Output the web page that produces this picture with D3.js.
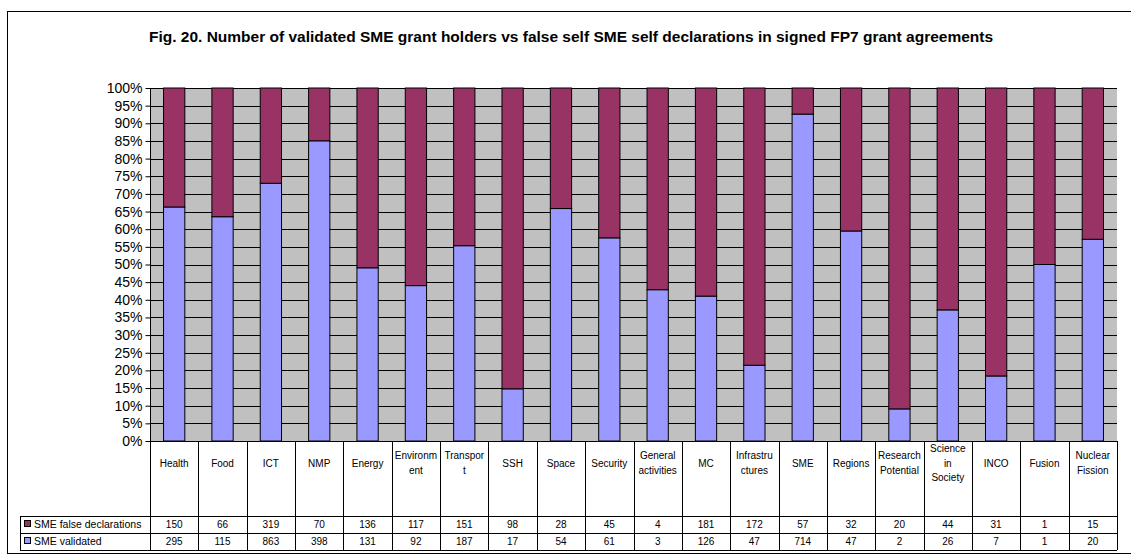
<!DOCTYPE html>
<html><head><meta charset="utf-8">
<script src="https://cdn.jsdelivr.net/npm/d3@7"></script>
<style>body{margin:0;background:#fff}svg{display:block}text{font-family:"Liberation Sans",Arial,sans-serif}</style>
</head><body><svg id="c" width="1131" height="556"></svg>
<script>
const categories = ["Health","Food","ICT","NMP","Energy","Environment","Transport","SSH","Space","Security","General activities","MC","Infrastructures","SME","Regions","Research Potential","Science in Society","INCO","Fusion","Nuclear Fission"];
const headerLines = [["Health"],["Food"],["ICT"],["NMP"],["Energy"],["Environm","ent"],["Transpor","t"],["SSH"],["Space"],["Security"],["General","activities"],["MC"],["Infrastru","ctures"],["SME"],["Regions"],["Research","Potential"],["Science","in","Society"],["INCO"],["Fusion"],["Nuclear","Fission"]];
const falseDecl = [150,66,319,70,136,117,151,98,28,45,4,181,172,57,32,20,44,31,1,15];
const validated = [295,115,863,398,131,92,187,17,54,61,3,126,47,714,47,2,26,7,1,20];
const seriesNames = ["SME false declarations","SME validated"];
const yTicks = d3.range(0,101,5);
const title = "Fig. 20. Number of validated SME grant holders vs false self SME self declarations in signed FP7 grant agreements";

const svg = d3.select("#c");
const colors = {f:"#993366", v:"#9999FF"};
const L=150, R=1117, T=88, B=441;
const rowH = [516,533,550];
svg.append("rect").attr("x",7.5).attr("y",11.5).attr("width",1130).attr("height",542).attr("fill","none").attr("stroke","#000");
svg.append("text").attr("x",571).attr("y",42).attr("text-anchor","middle").attr("font-weight","bold").attr("font-size",15.5).text(title);

const x = d3.scaleBand().domain(categories).range([L,R]).paddingInner(0).paddingOuter(0);
const y = d3.scaleLinear().domain([0,100]).range([B,T]);
const g = svg.append("g");
g.append("rect").attr("x",L).attr("y",T).attr("width",R-L).attr("height",B-T).attr("fill","#C0C0C0");
g.selectAll("line.grid").data(yTicks.filter(d=>d>0)).join("line").attr("class","grid")
 .attr("x1",L).attr("x2",R).attr("y1",d=>Math.round(y(d))+0.5).attr("y2",d=>Math.round(y(d))+0.5).attr("stroke","#000").attr("stroke-width",1);

const bw = x.bandwidth()*0.44;
const data = categories.map((c,i)=>{const t=falseDecl[i]+validated[i];return {c, v:validated[i]/t*100};});
g.selectAll("rect.v").data(data).join("rect").attr("x",d=>x(d.c)+(x.bandwidth()-bw)/2).attr("width",bw)
 .attr("y",d=>y(d.v)).attr("height",d=>B-y(d.v)).attr("fill",colors.v).attr("stroke","#000").attr("stroke-width",1);
g.selectAll("rect.f").data(data).join("rect").attr("x",d=>x(d.c)+(x.bandwidth()-bw)/2).attr("width",bw)
 .attr("y",y(100)).attr("height",d=>y(d.v)-y(100)).attr("fill",colors.f).attr("stroke","#000").attr("stroke-width",1);

const yAxis = d3.axisLeft(y).tickValues(yTicks).tickFormat(d=>d+"%").tickSize(5).tickPadding(3);
const ya = svg.append("g").attr("transform",`translate(${L+0.5},0)`).call(yAxis);
ya.select(".domain").remove();
ya.selectAll("text").attr("font-size",14).attr("fill","#000").attr("font-family","Liberation Sans, Arial");
ya.selectAll("line").attr("stroke","#000");
svg.append("line").attr("x1",L+0.5).attr("x2",L+0.5).attr("y1",T).attr("y2",rowH[2]).attr("stroke","#000");

// data table
const tb = svg.append("g");
categories.forEach((c,i)=>{
  const xr = x(c)+x.bandwidth();
  tb.append("line").attr("x1",Math.round(xr)+0.5).attr("x2",Math.round(xr)+0.5).attr("y1",B).attr("y2",rowH[2]).attr("stroke","#000");
});
[B,...rowH].forEach((yy,k)=>{
  tb.append("line").attr("x1",k===0?L:20).attr("x2",R).attr("y1",yy+0.5).attr("y2",yy+0.5).attr("stroke","#000");
});
tb.append("line").attr("x1",20.5).attr("x2",20.5).attr("y1",rowH[0]).attr("y2",rowH[2]).attr("stroke","#000");
headerLines.forEach((lines,i)=>{
  const cx = x(categories[i])+x.bandwidth()/2;
  const cy = 463;
  const lh = 14.5;
  lines.forEach((ln,j)=>{
    tb.append("text").attr("x",cx).attr("y",cy+(j-(lines.length-1)/2)*lh+3.5).attr("text-anchor","middle").attr("font-size",10).text(ln);
  });
});
[falseDecl,validated].forEach((arr,k)=>{
  const cy = (rowH[k]+rowH[k+1])/2+3.5;
  arr.forEach((v,i)=>{
    tb.append("text").attr("x",x(categories[i])+x.bandwidth()/2).attr("y",cy).attr("text-anchor","middle").attr("font-size",10).text(v);
  });
  tb.append("rect").attr("x",24.5).attr("y",cy-7.5).attr("width",6).attr("height",6).attr("fill",k===0?colors.f:colors.v).attr("stroke","#000");
  tb.append("text").attr("x",34).attr("y",cy).attr("font-size",10.5).text(seriesNames[k]);
});
</script></body></html>
